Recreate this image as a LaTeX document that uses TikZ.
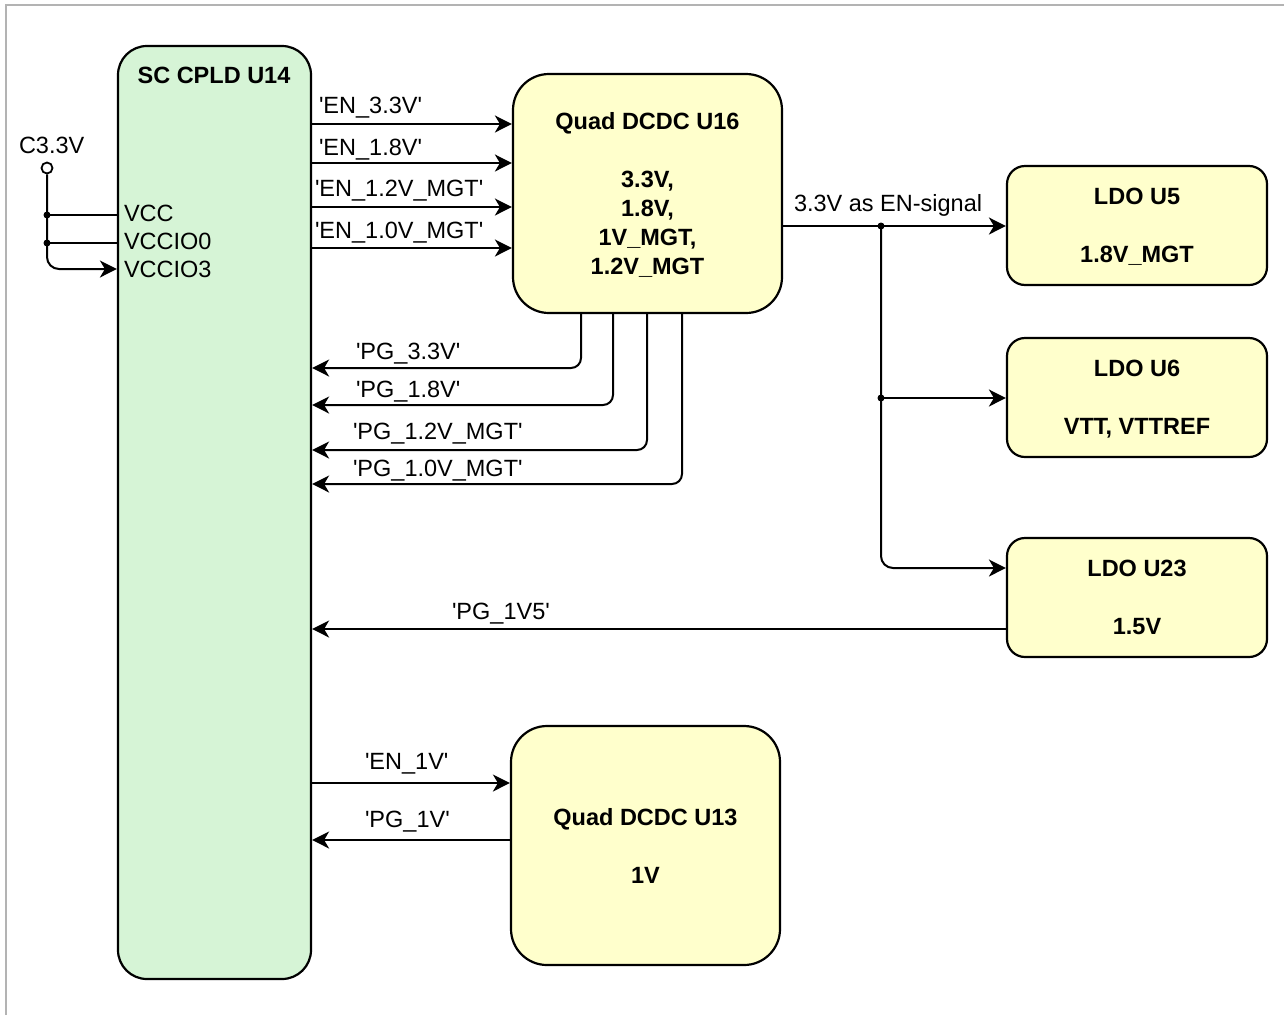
\documentclass[tikz,border=0pt]{standalone}
\usepackage{fontspec}
\setmainfont{Liberation Sans}
\usetikzlibrary{arrows.meta}
\definecolor{cpldgreen}{RGB}{214,244,214}
\definecolor{dcyellow}{RGB}{255,255,204}
\definecolor{framegray}{RGB}{179,179,179}
\newcommand\myq{\textquotesingle}
\begin{document}
\begin{tikzpicture}[x=1pt, y=-1pt,
  font=\fontsize{23.5}{29}\selectfont, line width=2pt,
  arr/.style={-{Stealth[length=17pt,width=17pt,inset=5pt]}},
  box/.style={draw, line width=2.2pt, align=center, font=\fontsize{23.5}{29}\selectfont\bfseries, text depth=0pt, inner sep=0pt},
  lbl/.style={inner sep=0pt, anchor=base west},
  dot/.style={circle, fill=black, inner sep=0pt, minimum size=7pt}]
\useasboundingbox (0,0) rectangle (1284,1015);
\draw[framegray, line width=2pt] (6,1015) -- (6,5) -- (1284,5);

% blocks
\node[box, fill=cpldgreen, rounded corners=29pt, minimum width=193pt, minimum height=933pt] (cpld) at (214.5,512.5) {};
\node[inner sep=0pt, anchor=base, font=\fontsize{23.5}{29}\selectfont\bfseries] (cpldt) at (214,83.5) {SC CPLD U14};
\node[box, fill=dcyellow, rounded corners=36pt, minimum width=269pt, minimum height=239pt] (u16) at (647.5,193.5) {Quad DCDC U16\\[29pt]3.3V,\\1.8V,\\1V\_MGT,\\1.2V\_MGT};
\node[box, fill=dcyellow, rounded corners=18pt, minimum width=260pt, minimum height=119pt] (u5) at (1137,225.5) {LDO U5\\[29pt]1.8V\_MGT};
\node[box, fill=dcyellow, rounded corners=18pt, minimum width=260pt, minimum height=119pt] (u6) at (1137,397.5) {LDO U6\\[29pt]VTT, VTTREF};
\node[box, fill=dcyellow, rounded corners=18pt, minimum width=260pt, minimum height=119pt] (u23) at (1137,597.5) {LDO U23\\[29pt]1.5V};
\node[box, fill=dcyellow, rounded corners=36pt, minimum width=269pt, minimum height=239pt] (u13) at (645.5,845.5) {Quad DCDC U13\\[29pt]1V};

% supply input
\node[circle, draw, fill=white, minimum size=11pt, inner sep=0pt, line width=1.8pt] (c33) at (47,168) {};
\node[lbl] (c33l) at (18,153.5) {C3.3V};
\coordinate (s1) at (47,215);
\coordinate (s2) at (47,243);
\draw[arr, rounded corners=12pt] (c33.south) |- (cpld.west |- 0,269);
\draw (s1) -- (cpld.west |- s1);
\draw (s2) -- (cpld.west |- s2);
\node[dot] (s1d) at (s1) {};
\node[dot] (s2d) at (s2) {};
\node[lbl] (vcc) at (123,221.5) {VCC};
\node[lbl] (vccio0) at (123,249.5) {VCCIO0};
\node[lbl] (vccio3) at (123,277.5) {VCCIO3};

% enables to U16
\foreach \yy in {124,163,207,248}
  \draw[arr] (cpld.east |- 0,\yy) -- (u16.west |- 0,\yy);
\node[lbl] (en33) at (318,113.5) {\myq EN\_3.3V\myq};
\node[lbl] (en18) at (318,155.5) {\myq EN\_1.8V\myq};
\node[lbl] (en12) at (314,196.5) {\myq EN\_1.2V\_MGT\myq};
\node[lbl] (en10) at (314,238.5) {\myq EN\_1.0V\_MGT\myq};

% power goods from U16
\draw[arr, rounded corners=10pt] (u16.south -| 581,0) |- (cpld.east |- 0,368);
\draw[arr, rounded corners=10pt] (u16.south -| 613,0) |- (cpld.east |- 0,405);
\draw[arr, rounded corners=10pt] (u16.south -| 647,0) |- (cpld.east |- 0,450);
\draw[arr, rounded corners=10pt] (u16.south -| 682,0) |- (cpld.east |- 0,484);
\node[lbl] (pg33) at (355,359.5) {\myq PG\_3.3V\myq};
\node[lbl] (pg18) at (355,397.5) {\myq PG\_1.8V\myq};
\node[lbl] (pg12) at (352,439.5) {\myq PG\_1.2V\_MGT\myq};
\node[lbl] (pg10) at (352,476.5) {\myq PG\_1.0V\_MGT\myq};

% 3.3V as enable for LDOs
\coordinate (j1) at (881,226);
\coordinate (j2) at (881,398);
\draw[arr] (u16.east |- j1) -- (u5.west |- j1);
\draw[arr, rounded corners=12pt] (j1) |- (u23.west |- 0,568);
\draw[arr] (j2) -- (u6.west |- j2);
\node[dot] (j1d) at (j1) {};
\node[dot] (j2d) at (j2) {};
\node[lbl] (ensig) at (793,211.5) {3.3V as EN-signal};

% LDO U23 power good
\draw[arr] (u23.west |- 0,629) -- (cpld.east |- 0,629);
\node[lbl] (pg1v5) at (451,619.5) {\myq PG\_1V5\myq};

% U13
\draw[arr] (cpld.east |- 0,783) -- (u13.west |- 0,783);
\draw[arr] (u13.west |- 0,840) -- (cpld.east |- 0,840);
\node[lbl] (en1v) at (364,769.5) {\myq EN\_1V\myq};
\node[lbl] (pg1v) at (364,827.5) {\myq PG\_1V\myq};
\end{tikzpicture}
\end{document}
